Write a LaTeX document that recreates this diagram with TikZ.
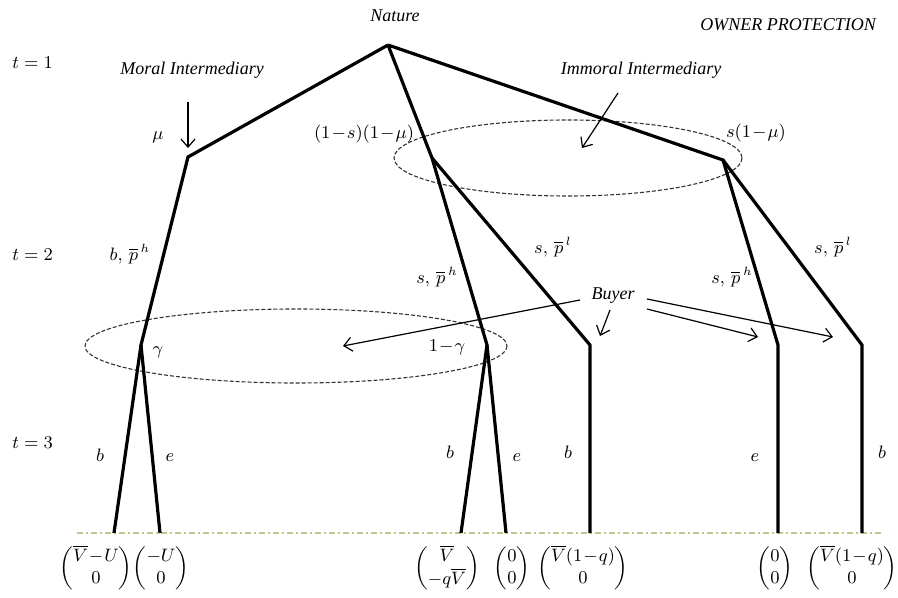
\documentclass[tikz,border=0pt]{standalone}
\usepackage{amsmath}
\usepackage{fontspec}
\setmainfont{Liberation Serif}
\usepackage{tikz}
\usetikzlibrary{arrows.meta, positioning, calc}
\definecolor{treeblack}{RGB}{0,0,0}
\definecolor{setgray}{RGB}{50,50,50}
\definecolor{baseolive}{RGB}{196,196,140}
\tikzset{
  branch/.style={line width=1.6pt, color=treeblack},
  infoset/.style={line width=0.55pt, color=setgray, dash pattern=on 2pt off 1pt},
  pointer/.style={-{Straight Barb[length=4pt,width=7pt]}, line width=0.6pt},
  baseline/.style={line width=0.6pt, color=baseolive, dash pattern=on 3pt off 1.5pt on 1pt off 1.5pt},
  lbl/.style={font=\fontsize{9}{11}\selectfont, inner sep=1pt},
  player/.style={font=\fontsize{9}{11}\selectfont\itshape, inner sep=1pt},
  payoff/.style={font=\fontsize{9}{11}\selectfont, inner sep=0pt}
}

\begin{document}
\begin{tikzpicture}[x=0.5pt, y=-0.5pt]
  \useasboundingbox (0,0) rectangle (898,598);

  % Decision nodes
  \coordinate (N)  at (388,45);
  \coordinate (M)  at (188,157);
  \coordinate (I1) at (432,158);
  \coordinate (I2) at (723,160);
  \coordinate (G1) at (141,345);
  \coordinate (G2) at (487,345);
  \coordinate (B1) at (590,345);
  \coordinate (B2) at (778,345);
  \coordinate (B3) at (862,345);

  % Terminal nodes
  \coordinate (T1) at (114,533);
  \coordinate (T2) at (160,533);
  \coordinate (T3) at (461,533);
  \coordinate (T4) at (506,533);
  \coordinate (T5) at (590,533);
  \coordinate (T6) at (778,533);
  \coordinate (T7) at (862,533);

  % Baseline of payoffs
  \draw[baseline] (77,533) -- (884,533);

  % Information sets
  \draw[infoset] (568,158) ellipse [x radius=174, y radius=38];
  \draw[infoset] (296,346) ellipse [x radius=211, y radius=37];

  % Tree
  \draw[branch] (N) -- (M) -- (G1) -- (T1);
  \draw[branch] (G1) -- (T2);
  \draw[branch] (N) -- (I1) -- (G2) -- (T3);
  \draw[branch] (G2) -- (T4);
  \draw[branch] (I1) -- (B1) -- (T5);
  \draw[branch] (N) -- (I2) -- (B2) -- (T6);
  \draw[branch] (I2) -- (B3) -- (T7);

  % Stage labels
  \node[lbl, anchor=west] (t1) at (10,63) {$t=1$};
  \node[lbl, anchor=west] (t2) at (10,255) {$t=2$};
  \node[lbl, anchor=west] (t3) at (10,443) {$t=3$};

  % Players
  \node[player] (nature) at (395,16) {Nature};
  \node[player] (title) at (788,25) {OWNER PROTECTION};
  \node[player] (moral) at (192,70) {Moral Intermediary};
  \node[player] (immoral) at (641,70) {Immoral Intermediary};
  \node[player] (buyer) at (613,296) {Buyer};

  % Probabilities
  \node[lbl] (pmu) at (158,137) {$\mu$};
  \node[lbl] (pim1) at (364,134) {$(1\!-\!s)(1\!-\!\mu)$};
  \node[lbl] (pim2) at (756,133) {$s(1\!-\!\mu)$};
  \node[lbl] (pga) at (158,352) {$\gamma$};
  \node[lbl] (pgb) at (447,347) {$1\!-\!\gamma$};

  % Actions at t = 2
  \node[lbl] (a1) at (130,254) {$b,\,\overline{p}^{\,h}$};
  \node[lbl] (a2) at (437,277) {$s,\,\overline{p}^{\,h}$};
  \node[lbl] (a3) at (553,247) {$s,\,\overline{p}^{\,l}$};
  \node[lbl] (a4) at (732,277) {$s,\,\overline{p}^{\,h}$};
  \node[lbl] (a5) at (833,247) {$s,\,\overline{p}^{\,l}$};

  % Actions at t = 3
  \node[lbl] (c1) at (100,455) {$b$};
  \node[lbl] (c2) at (170,458) {$e$};
  \node[lbl] (c3) at (450,452) {$b$};
  \node[lbl] (c4) at (517,458) {$e$};
  \node[lbl] (c5) at (568,452) {$b$};
  \node[lbl] (c6) at (755,458) {$e$};
  \node[lbl] (c7) at (882,452) {$b$};

  % Payoffs
  \node[payoff] (u1) at (96,568) {$\begin{pmatrix}\overline{V}\!-\!U\\ 0\end{pmatrix}$};
  \node[payoff] (u2) at (161,568) {$\begin{pmatrix}-U\\ 0\end{pmatrix}$};
  \node[payoff] (u3) at (447,568) {$\begin{pmatrix}\overline{V}\\ -q\overline{V}\end{pmatrix}$};
  \node[payoff] (u4) at (512,568) {$\begin{pmatrix}0\\ 0\end{pmatrix}$};
  \node[payoff] (u5) at (583,568) {$\begin{pmatrix}\overline{V}(1\!-\!q)\\ 0\end{pmatrix}$};
  \node[payoff] (u6) at (775,568) {$\begin{pmatrix}0\\ 0\end{pmatrix}$};
  \node[payoff] (u7) at (852,568) {$\begin{pmatrix}\overline{V}(1\!-\!q)\\ 0\end{pmatrix}$};

  % Pointers
  \coordinate (m0) at (188,102);  \coordinate (m1) at (188,148);
  \coordinate (i0) at (618,93);   \coordinate (i1) at (582,148);
  \coordinate (b0) at (580,300);  \coordinate (b1) at (343,346);
  \coordinate (b2) at (610,310);  \coordinate (b3) at (600,336);
  \coordinate (b4) at (647,299);  \coordinate (b5) at (833,337);
  \coordinate (b6) at (647,309);  \coordinate (b7) at (758,337);
  \draw[pointer] (m0) -- (m1);
  \draw[pointer] (i0) -- (i1);
  \draw[pointer] (b0) -- (b1);
  \draw[pointer] (b2) -- (b3);
  \draw[pointer] (b4) -- (b5);
  \draw[pointer] (b6) -- (b7);
\end{tikzpicture}
\end{document}
